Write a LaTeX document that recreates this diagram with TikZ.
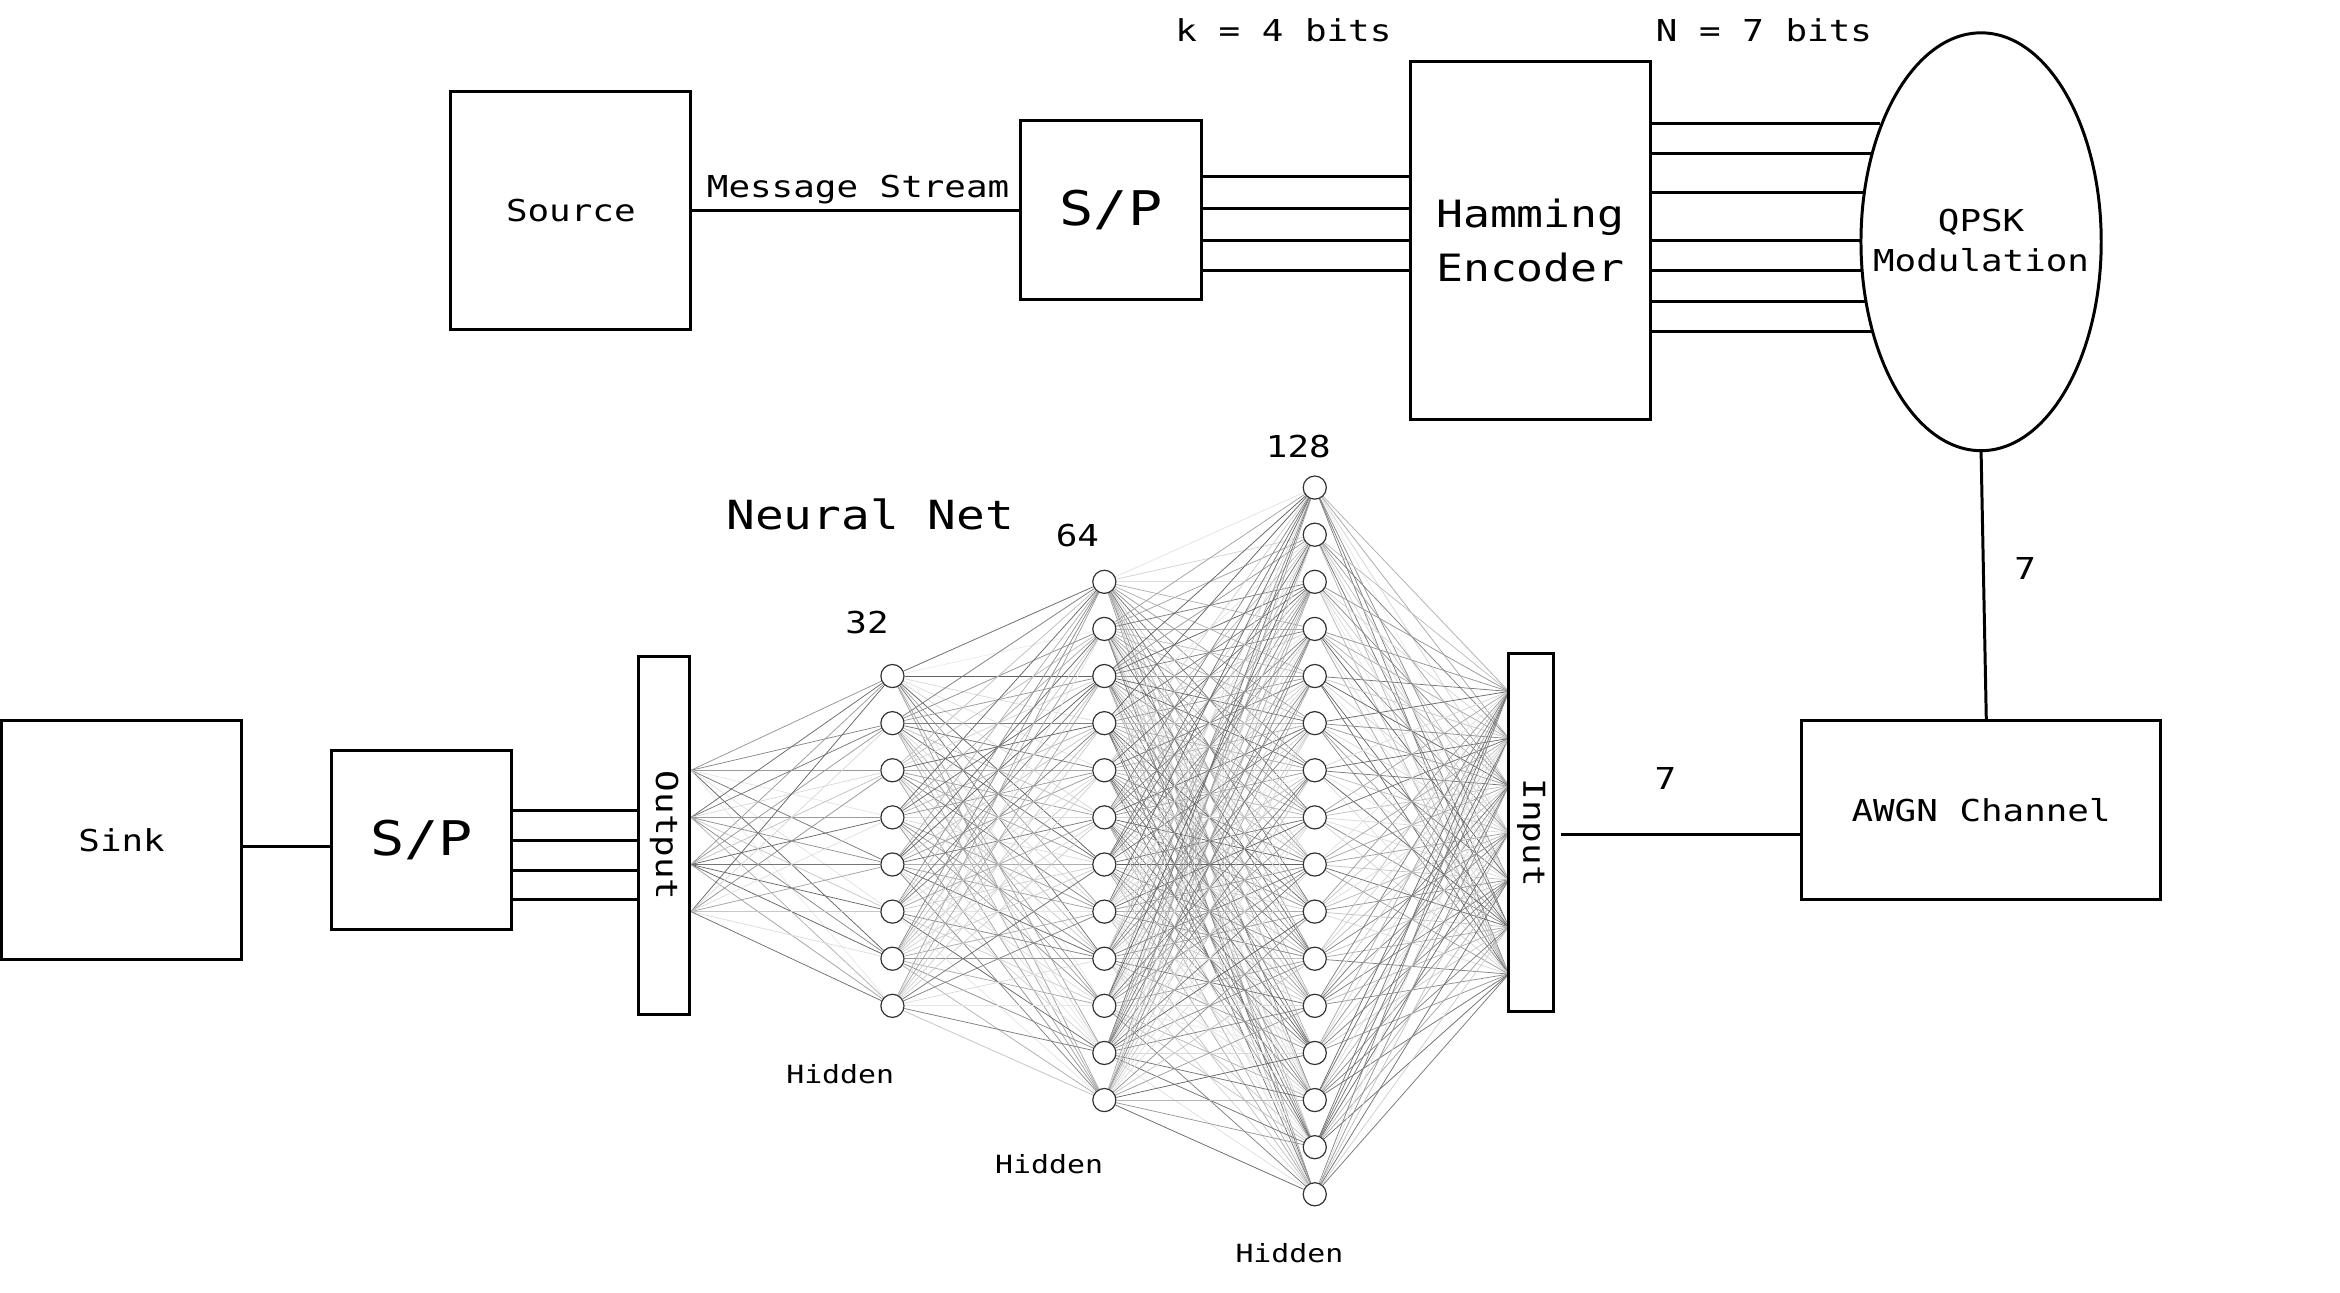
\documentclass[tikz,border=0pt]{standalone}
\usepackage{fontspec}
\setmainfont{DejaVu Sans Mono}[FakeStretch=1.19]
\usetikzlibrary{shapes.geometric,calc}
\pgfdeclarelayer{edges}
\pgfsetlayers{edges,main}
\begin{document}
\begin{tikzpicture}[x=1pt,y=-1pt,
  box/.style={draw=black, line width=2pt, fill=white, inner sep=0pt, align=center},
  txt/.style={font=\fontsize{20.2}{27}\selectfont},
  big/.style={font=\fontsize{32}{38}\selectfont},
  wire/.style={line width=2pt},
  neuron/.style={circle, draw=black!80, line width=0.8pt, fill=white, minimum size=15.5pt, inner sep=0pt},
  nnedge/.style={line width=0.5pt}]
\useasboundingbox (0,0) rectangle (1568,866.4);

% ---------- top chain ----------
\node[box, txt, minimum width=161pt, minimum height=160pt] (src) at (382.5,141) {Source};
\node[box, big, minimum width=121pt, minimum height=120pt] (spT) at (744.5,141) {S/P};
\node[box, font=\fontsize{25.2}{36}\selectfont, minimum width=161pt, minimum height=240pt] (ham) at (1025.5,161) {Hamming\\Encoder};
\node[draw=black, line width=2pt, ellipse, minimum width=161pt, minimum height=280pt, inner sep=0pt] (qpsk) at (1327.5,162) {};
\node[txt, align=center] (qpskT) at (1327.5,161) {QPSK\\Modulation};

\node[txt] (msg) at (575,127) {Message Stream};
\node[txt] (kbits) at (860,20) {k = 4 bits};
\node[txt] (nbits) at (1182,20) {N = 7 bits};

\draw[wire] (src.east) -- (spT.west);
\foreach \y in {118,140,161,181}
  \draw[wire] (spT.east |- 0,\y) -- (ham.west |- 0,\y);
\foreach \y/\x [count=\i] in {83/1260, 103/1254.5, 129/1249.3, 161/1247, 181/1247.7, 202/1250.4, 222/1254.8}{
  \coordinate (q\i) at (\x,\y);
  \draw[wire] (ham.east |- q\i) -- (q\i);
}

% ---------- channel ----------
\node[box, txt, minimum width=241pt, minimum height=120pt] (awgn) at (1327.5,543) {AWGN Channel};
\coordinate (awgnTop) at (1331,483);
\draw[wire] (qpsk.south) -- (awgnTop);
\node[txt] (seven1) at (1357,381) {7};

\node[box, minimum width=30pt, minimum height=240pt] (inp) at (1026,558) {};
\node[txt, rotate=-90] (inpT) at (inp) {Input};
\coordinate (inEnd) at (1046,559);
\draw[wire] (awgn.west |- inEnd) -- (inEnd);
\node[txt] (seven2) at (1116,522) {7};

% ---------- receiver ----------
\node[box, minimum width=34pt, minimum height=240pt] (outp) at (445,560) {};
\node[txt, rotate=-90] (outpT) at (outp) {Output};
\node[box, txt, minimum width=161pt, minimum height=160pt] (sink) at (81.5,563) {Sink};
\node[box, big, minimum width=121pt, minimum height=120pt] (spB) at (282.5,563) {S/P};
\draw[wire] (sink.east |- 0,567) -- (spB.west |- 0,567);
\foreach \y in {543,563,583,603}
  \draw[wire] (spB.east |- 0,\y) -- (outp.west |- 0,\y);

% ---------- neural net ----------
\foreach \i in {1,...,8}
  \node[neuron] (a\i) at (598,{563.5+(\i-4.5)*31.57}) {};
\foreach \i in {1,...,12}
  \node[neuron] (b\i) at (740,{563.5+(\i-6.5)*31.57}) {};
\foreach \i in {1,...,16}
  \node[neuron] (c\i) at (881,{563.5+(\i-8.5)*31.57}) {};
\foreach \k in {3,...,6}
  \coordinate (o\k) at (outp.east |- a\k);
\foreach \j in {1,...,7}
  \coordinate (in\j) at (1011,{558+(\j-4)*31.57});

\begin{pgfonlayer}{edges}
  \fill[white] (0,0) rectangle (1568,866.4);
  \pgfmathsetseed{12345}
  \foreach \k in {3,...,6}
    \foreach \i in {1,...,8}{
      \pgfmathsetmacro\sh{int(8+55*rnd)}
      \draw[nnedge, black!\sh] (o\k) -- (a\i);
    }
  \foreach \i in {1,...,8}
    \foreach \j in {1,...,12}{
      \pgfmathsetmacro\sh{int(8+55*rnd)}
      \draw[nnedge, black!\sh] (a\i) -- (b\j);
    }
  \foreach \j in {1,...,12}
    \foreach \k in {1,...,16}{
      \pgfmathsetmacro\sh{int(8+55*rnd)}
      \draw[nnedge, black!\sh] (b\j) -- (c\k);
    }
  \foreach \k in {1,...,16}
    \foreach \j in {1,...,7}{
      \pgfmathsetmacro\sh{int(8+55*rnd)}
      \draw[nnedge, black!\sh] (c\k) -- (in\j);
    }
\end{pgfonlayer}

\node[font=\fontsize{26.9}{32}\selectfont] (nnT) at (583,345) {Neural Net};
\node[txt] (n32) at (581,417) {32};
\node[txt] (n64) at (722,359) {64};
\node[txt] (n128) at (870,299) {128};
\node[font=\fontsize{16.8}{20}\selectfont] (h1) at (563,720) {Hidden};
\node[font=\fontsize{16.8}{20}\selectfont] (h2) at (703,780) {Hidden};
\node[font=\fontsize{16.8}{20}\selectfont] (h3) at (864,840) {Hidden};
\end{tikzpicture}
\end{document}
